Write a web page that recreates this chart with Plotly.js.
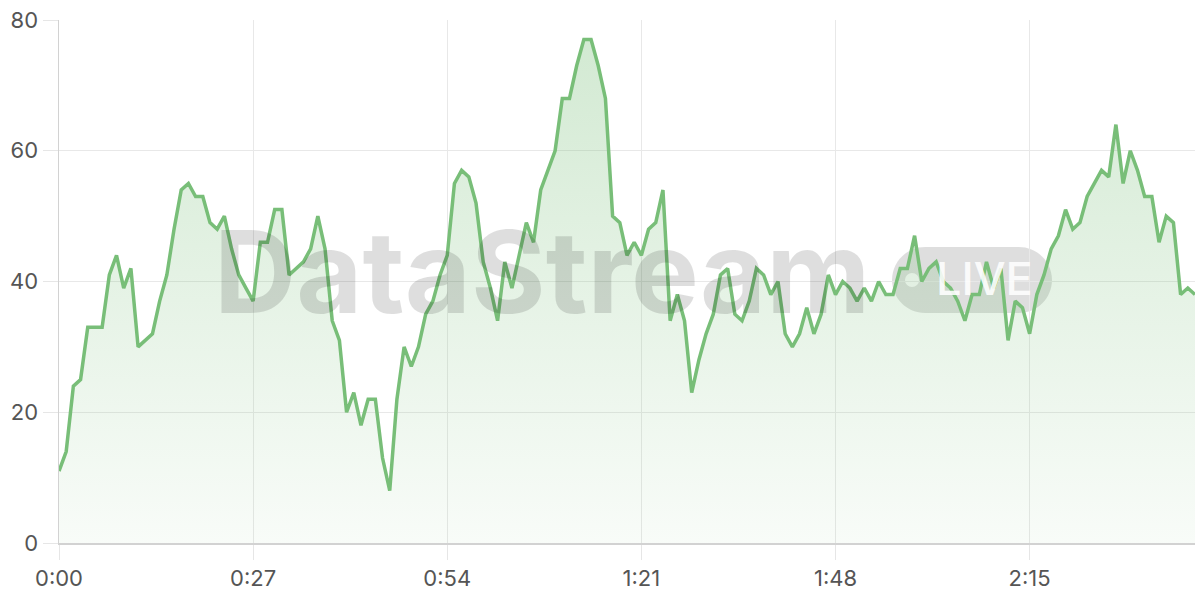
<!DOCTYPE html>
<html>
<head>
<meta charset="utf-8">
<script src="https://cdn.plot.ly/plotly-3.0.1.min.js"></script>
<style>
  html, body { margin: 0; padding: 0; background: #fff; }
  #graph { width: 1200px; height: 600px; }
</style>
</head>
<body>
<div id="graph"></div>
<script>
// one sample per second, 0:00 .. 2:38
var values = [
  11, 14, 24, 25, 33, 33, 33, 41, 44, 39, 42, 30, 31, 32, 37, 41, 48, 54, 55, 53,
  53, 49, 48, 50, 45, 41, 39, 37, 46, 46, 51, 51, 41, 42, 43, 45, 50, 45, 34, 31,
  20, 23, 18, 22, 22, 13, 8, 22, 30, 27, 30, 35, 37, 41, 44, 55, 57, 56, 52, 43,
  39, 34, 43, 39, 44, 49, 46, 54, 57, 60, 68, 68, 73, 77, 77, 73, 68, 50, 49, 44,
  46, 44, 48, 49, 54, 34, 38, 34, 23, 28, 32, 35, 41, 42, 35, 34, 37, 42, 41, 38,
  40, 32, 30, 32, 36, 32, 35, 41, 38, 40, 39, 37, 39, 37, 40, 38, 38, 42, 42, 47,
  40, 42, 43, 40, 39, 37, 34, 38, 38, 43, 39, 42, 31, 37, 36, 32, 38, 41, 45, 47,
  51, 48, 49, 53, 55, 57, 56, 64, 55, 60, 57, 53, 53, 46, 50, 49, 38, 39, 38
];
var seconds = values.map(function (v, i) { return i; });

var tickSeconds = [0, 27, 54, 81, 108, 135];
var tickLabels = ["0:00", "0:27", "0:54", "1:21", "1:48", "2:15"];
var yTicks = [0, 20, 40, 60, 80];

var lineColor = "rgb(120,190,120)";
var fontFamily = "Inter, 'Noto Sans', sans-serif";

var trace = {
  x: seconds,
  y: values,
  type: "scatter",
  mode: "lines",
  line: { color: lineColor, width: 3.5 },
  fill: "tozeroy",
  fillgradient: {
    type: "vertical",
    start: 0,
    stop: 80,
    colorscale: [
      [0, "rgba(120,190,120,0.05)"],
      [1, "rgba(120,190,120,0.34)"]
    ]
  },
  hoverinfo: "x+y"
};

// rounded "LIVE" pill in paper units (plot area is 1136 x 523 px)
function pill(x0, x1, y0, y1) {
  var ry = (y1 - y0) / 2;
  var rx = ry * 523 / 1136;
  var k = 0.5523;
  var ym = (y0 + y1) / 2;
  return "M" + (x0 + rx) + "," + y0 +
    " L" + (x1 - rx) + "," + y0 +
    " C" + (x1 - rx + rx * k) + "," + y0 + " " + x1 + "," + (ym - ry * k) + " " + x1 + "," + ym +
    " C" + x1 + "," + (ym + ry * k) + " " + (x1 - rx + rx * k) + "," + y1 + " " + (x1 - rx) + "," + y1 +
    " L" + (x0 + rx) + "," + y1 +
    " C" + (x0 + rx - rx * k) + "," + y1 + " " + x0 + "," + (ym + ry * k) + " " + x0 + "," + ym +
    " C" + x0 + "," + (ym - ry * k) + " " + (x0 + rx - rx * k) + "," + y0 + " " + (x0 + rx) + "," + y0 + " Z";
}

var layout = {
  width: 1200,
  height: 600,
  margin: { l: 59, r: 5, t: 20, b: 57 },
  paper_bgcolor: "#ffffff",
  plot_bgcolor: "#ffffff",
  showlegend: false,
  font: { family: fontFamily, color: "#555555", size: 22 },
  xaxis: {
    range: [0, 158],
    tickmode: "array",
    tickvals: tickSeconds,
    ticktext: tickLabels,
    showgrid: true,
    gridcolor: "#e8e8e8",
    gridwidth: 1,
    zeroline: false,
    showline: true,
    linecolor: "#d2d2d2",
    linewidth: 1.5,
    ticks: "outside",
    ticklen: 15,
    tickcolor: "#e6e6e6",
    tickfont: { family: fontFamily, size: 22, color: "#555555" },
    fixedrange: true
  },
  yaxis: {
    range: [0, 80],
    tickmode: "array",
    tickvals: yTicks,
    showgrid: true,
    gridcolor: "#e8e8e8",
    gridwidth: 1,
    zeroline: false,
    showline: true,
    linecolor: "#d2d2d2",
    linewidth: 1.5,
    ticks: "outside",
    ticklen: 15,
    tickcolor: "#e6e6e6",
    tickfont: { family: fontFamily, size: 22, color: "#555555" },
    fixedrange: true
  },
  shapes: [
    {
      type: "path",
      xref: "paper", yref: "paper",
      path: pill(0.7333, 0.8741, 0.4398, 0.566),
      fillcolor: "rgba(0,0,0,0.13)",
      line: { width: 0 },
      layer: "between"
    },
    {
      type: "circle",
      xref: "paper", yref: "paper",
      x0: 0.7509 - 0.0062, x1: 0.7509 + 0.0062,
      y0: 0.5029 - 0.0134, y1: 0.5029 + 0.0134,
      fillcolor: "rgba(255,255,255,0.9)",
      line: { width: 0 },
      layer: "between"
    }
  ],
  annotations: [
    {
      text: "DataStream",
      xref: "paper", yref: "paper",
      x: 0.1347, y: 0.52,
      xanchor: "left", yanchor: "middle",
      showarrow: false,
      font: { family: fontFamily, size: 114, weight: 700, color: "rgba(0,0,0,0.13)" }
    },
    {
      text: "LIVE",
      xref: "paper", yref: "paper",
      x: 0.8151, y: 0.505,
      xanchor: "center", yanchor: "middle",
      showarrow: false,
      font: { family: fontFamily, size: 45, weight: 500, color: "rgba(255,255,255,0.9)" }
    }
  ]
};

Plotly.newPlot("graph", [trace], layout, { displayModeBar: false, staticPlot: true });
</script>
</body>
</html>
